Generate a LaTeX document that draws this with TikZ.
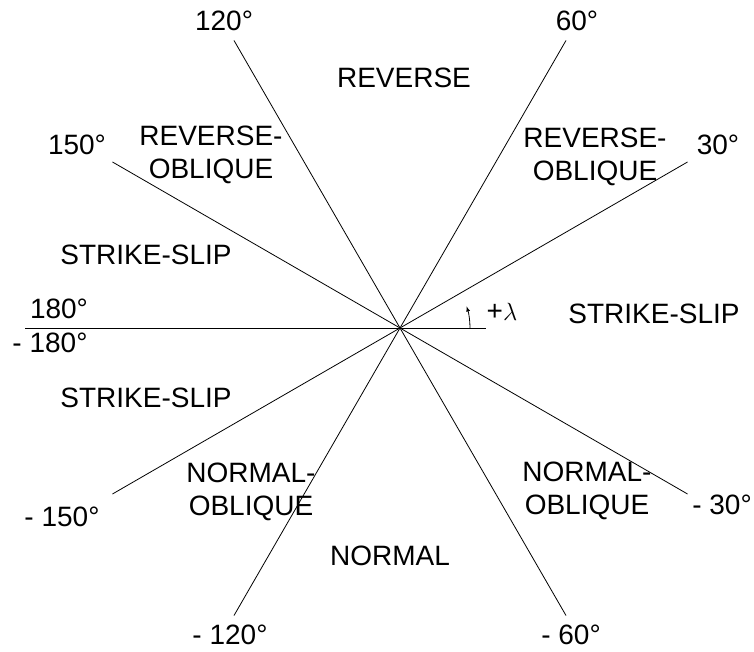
\documentclass[tikz,border=0pt]{standalone}
\usepackage{fontspec}
\setmainfont{Liberation Sans}
\begin{document}
\begin{tikzpicture}[x=1pt, y=1pt,
    rayon/.style={line width=0.8pt},
    zone/.style={font=\fontsize{28}{33}\selectfont, align=center, inner sep=0pt},
    angle/.style={font=\fontsize{28}{33}\selectfont, inner sep=0pt}]
  \useasboundingbox (0,0) rectangle (754,652);

  % Centre et extrémités des rayons
  \coordinate (O) at (400,324);
  \coordinate (P30) at ({400+332*cos(30)}, {324+332*sin(30)});
  \coordinate (P60) at ({400+332*cos(60)}, {324+332*sin(60)});
  \coordinate (P120) at ({400+332*cos(120)}, {324+332*sin(120)});
  \coordinate (P150) at ({400+332*cos(150)}, {324+332*sin(150)});
  \coordinate (M30) at ({400+332*cos(-30)}, {324+332*sin(-30)});
  \coordinate (M60) at ({400+332*cos(-60)}, {324+332*sin(-60)});
  \coordinate (M120) at ({400+332*cos(-120)}, {324+332*sin(-120)});
  \coordinate (M150) at ({400+332*cos(-150)}, {324+332*sin(-150)});
  \coordinate (G) at (25,324);
  \coordinate (D) at (486,324);

  % Rayons
  \draw[rayon] (G) -- (D);
  \draw[rayon] (M150) -- (P30);
  \draw[rayon] (M120) -- (P60);
  \draw[rayon] (M60) -- (P120);
  \draw[rayon] (M30) -- (P150);

  % Angle lambda
  \coordinate (L0) at (470,324);
  \draw[rayon, -latex] (L0) arc[start angle=0, end angle=18, radius=70];
  \node[angle] (lambda) at (502,340) {+$\lambda$};

  % Domaines
  \node[zone] (rev) at (404,574) {REVERSE};
  \node[zone] (revobl1) at (211,497) {REVERSE-\\OBLIQUE};
  \node[zone] (revobl2) at (595,495) {REVERSE-\\OBLIQUE};
  \node[zone] (ss1) at (146,397) {STRIKE-SLIP};
  \node[zone] (ss2) at (654,338) {STRIKE-SLIP};
  \node[zone] (ss3) at (146,254) {STRIKE-SLIP};
  \node[zone] (norobl1) at (251,160) {NORMAL-\\OBLIQUE};
  \node[zone] (norobl2) at (587,161) {NORMAL-\\OBLIQUE};
  \node[zone] (nor) at (390,96) {NORMAL};

  % Valeurs des angles
  \node[angle] (a120) at (224,631) {120°};
  \node[angle] (a60) at (577,631) {60°};
  \node[angle] (a30) at (718,507) {30°};
  \node[angle] (a150) at (77,507) {150°};
  \node[angle] (a180) at (59,343) {180°};
  \node[angle] (am180) at (50,309) {- 180°};
  \node[angle] (am30) at (722,147) {- 30°};
  \node[angle] (am150) at (62,135) {- 150°};
  \node[angle] (am120) at (230,17) {- 120°};
  \node[angle] (am60) at (571,17) {- 60°};

\end{tikzpicture}
\end{document}
